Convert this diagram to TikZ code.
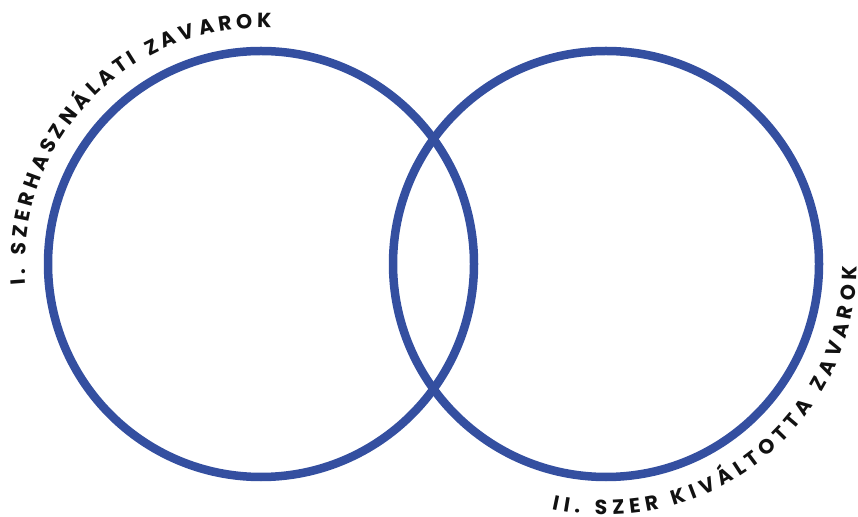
\documentclass[tikz,border=0pt]{standalone}
\usepackage{fontspec}
\usepackage{tikz}
\usetikzlibrary{decorations.text}
\newfontfamily\labelfont{Poppins}
\definecolor{ringblue}{HTML}{344FA0}
\definecolor{ink}{HTML}{111111}

\begin{document}
\begin{tikzpicture}[
  x=1pt,y=1pt,
  ring/.style={draw=ringblue,line width=8.5pt},
  arclabel/.style={decorate,decoration={text along path,
    text align={fit to path},text color=ink,
    text={|\labelfont\bfseries\fontsize{20.5}{20.5}\selectfont|#1}}}
]
\useasboundingbox (0,0) rectangle (858,516);
\coordinate (cl) at (261,252);
\coordinate (cr) at (606,252);
\draw[ring] (cl) circle[radius=213];
\draw[ring] (cr) circle[radius=213];
% labels on the outside of the rings
\path[arclabel={I. SZERHASZNÁLATI ZAVAROK}]
  ([shift={(185:236)}]cl) arc[start angle=185,end angle=87.5,radius=236];
\path[arclabel={II. SZER KIVÁLTOTTA ZAVAROK}]
  ([shift={(257.5:251)}]cr) arc[start angle=257.5,end angle=359.5,radius=251];
\end{tikzpicture}
\end{document}
